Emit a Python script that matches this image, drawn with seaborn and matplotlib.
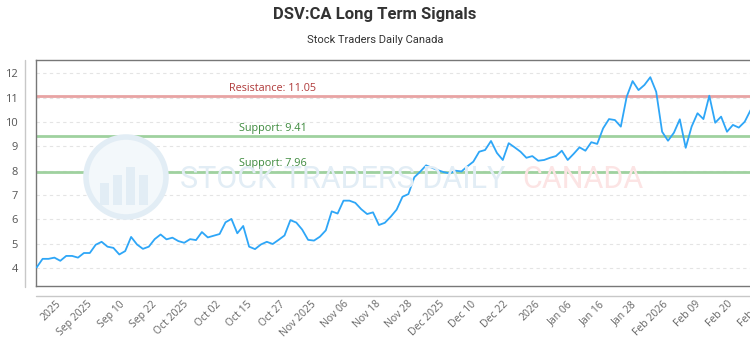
import numpy as np
import pandas as pd
import seaborn as sns
import matplotlib.pyplot as plt
from matplotlib.patches import Ellipse, Rectangle
from matplotlib.lines import Line2D

# Daily closing prices, one value per trading session
close = [
    4.03, 4.38, 4.38, 4.43, 4.30, 4.50, 4.50, 4.43, 4.62, 4.62,
    4.96, 5.08, 4.88, 4.83, 4.56, 4.70, 5.28, 4.97, 4.79, 4.88,
    5.19, 5.38, 5.18, 5.25, 5.11, 5.04, 5.19, 5.15, 5.48, 5.26,
    5.33, 5.40, 5.88, 6.02, 5.43, 5.73, 4.88, 4.78, 4.97, 5.08,
    4.99, 5.16, 5.34, 5.97, 5.87, 5.58, 5.16, 5.13, 5.29, 5.55,
    6.33, 6.24, 6.77, 6.77, 6.68, 6.42, 6.22, 6.29, 5.77, 5.86,
    6.11, 6.40, 6.93, 7.04, 7.73, 7.96, 8.22, 8.12, 8.02, 7.94,
    7.89, 8.00, 7.97, 8.18, 8.37, 8.78, 8.85, 9.22, 8.73, 8.44,
    9.13, 8.96, 8.78, 8.53, 8.60, 8.41, 8.44, 8.53, 8.60, 8.82,
    8.44, 8.69, 8.96, 8.82, 9.17, 9.10, 9.74, 10.12, 10.08, 9.81,
    11.04, 11.68, 11.31, 11.52, 11.84, 11.24, 9.60, 9.23, 9.56, 10.11,
    8.94, 9.81, 10.36, 10.12, 11.08, 9.97, 10.22, 9.60, 9.88, 9.77,
    10.01, 10.49,
]

tick_labels = [
    "2025", "Sep 2025", "Sep 10", "Sep 22", "Oct 2025", "Oct 02", "Oct 15",
    "Oct 27", "Nov 2025", "Nov 06", "Nov 18", "Nov 28", "Dec 2025", "Dec 10",
    "Dec 22", "2026", "Jan 06", "Jan 16", "Jan 28", "Feb 2026", "Feb 09",
    "Feb 20", "Feb 27",
]

resistance = 11.05
supports = [9.41, 7.96]

sns.set_theme(style="white")
plt.rcParams["font.family"] = ["Open Sans", "DejaVu Sans"]

W, H = 750, 350
fig = plt.figure(figsize=(W / 100, H / 100), dpi=100)
fig.patch.set_facecolor("white")

# plot area: left edge at 36px, top at 60px, bottom at 286px; runs past the right edge
ax = fig.add_axes([36 / W, 1 - 286 / H, (770 - 36) / W, (286 - 60) / H])

px_per_step = 5.9
ax.set_xlim(-0.12, -0.12 + (770 - 36) / px_per_step)
ax.set_ylim(3.265, 12.546)

# watermark logo and wordmark
wm_blue = "#e2edf5"
fx = lambda p: p / W
fy = lambda p: 1 - p / H
fig.patches.append(Ellipse((fx(126), fy(177)), 80 / W, 80 / H, transform=fig.transFigure,
                           facecolor="#f3f8fb", edgecolor=wm_blue, lw=4, zorder=0))
for bx, bh in [(100, 22), (113, 30), (126, 38), (139, 30)]:
    fig.patches.append(Rectangle((fx(bx), fy(205)), 9 / W, bh / H, transform=fig.transFigure,
                                 facecolor=wm_blue, edgecolor="none", zorder=0))
fig.lines.append(Line2D([fx(96), fx(112), fx(128), fx(142), fx(158)],
                        [fy(170), fy(158), fy(166), fy(150), fy(158)],
                        transform=fig.transFigure, color=wm_blue, lw=3, zorder=0))
fig.text(fx(180), fy(180), "STOCK TRADERS DAILY", ha="left", va="center",
         fontsize=22, color=wm_blue, family="Roboto", zorder=0)
fig.text(fx(522), fy(180), "CANADA", ha="left", va="center",
         fontsize=22, color="#fce4e4", family="Roboto", zorder=0)
ax.patch.set_alpha(0)

# horizontal grid
for v in range(4, 13):
    ax.axhline(v, color="#e4e4e4", lw=0.8, ls=(0, (3, 3)), zorder=1)

# signal levels
ax.axhline(resistance, color="#e8a3a3", lw=2, zorder=2)
ax.text(40, resistance + 0.33, f"Resistance: {resistance:.2f}", ha="center", va="center",
        fontsize=7.8, color="#b03b3b", zorder=3)
for s in supports:
    ax.axhline(s, color="#9fd19f", lw=2, zorder=2)
    ax.text(40, s + 0.33, f"Support: {s:.2f}", ha="center", va="center",
            fontsize=7.8, color="#3d8a3d", zorder=3)

df = pd.DataFrame({"session": np.arange(len(close)), "close": close})
sns.lineplot(data=df, x="session", y="close", ax=ax, color="#2ea6f7", lw=1.3, zorder=5)
ax.set_xlabel("")
ax.set_ylabel("")

ax.set_yticks(range(4, 13))
ax.tick_params(axis="y", length=0, pad=13, labelsize=8, labelcolor="#555555")

tick_pos = 3.8 + 5.42 * np.arange(len(tick_labels))
ax.set_xticks(tick_pos)
ax.set_xticklabels(tick_labels, rotation=45, ha="right", va="center",
                   rotation_mode="anchor", fontsize=7.5, color="#666666")
ax.tick_params(axis="x", length=0, pad=12)

for side in ["left", "top", "bottom", "right"]:
    ax.spines[side].set_color("#777777")
    ax.spines[side].set_linewidth(1)

# outer axis rules
fig.lines.append(Line2D([fx(25), fx(25)], [fy(60), fy(287)], transform=fig.transFigure,
                        color="#c8c8c8", lw=1))
fig.lines.append(Line2D([fx(36), fx(750)], [fy(296), fy(296)], transform=fig.transFigure,
                        color="#c8c8c8", lw=1))

fig.text(0.5, fy(15), "DSV:CA Long Term Signals", ha="center", va="center",
         fontsize=12, fontweight="bold", color="#333333", family="Roboto")
fig.text(0.5, fy(40), "Stock Traders Daily Canada", ha="center", va="center",
         fontsize=8, color="#333333", family="Roboto")

fig.savefig("out.png", dpi=100)
